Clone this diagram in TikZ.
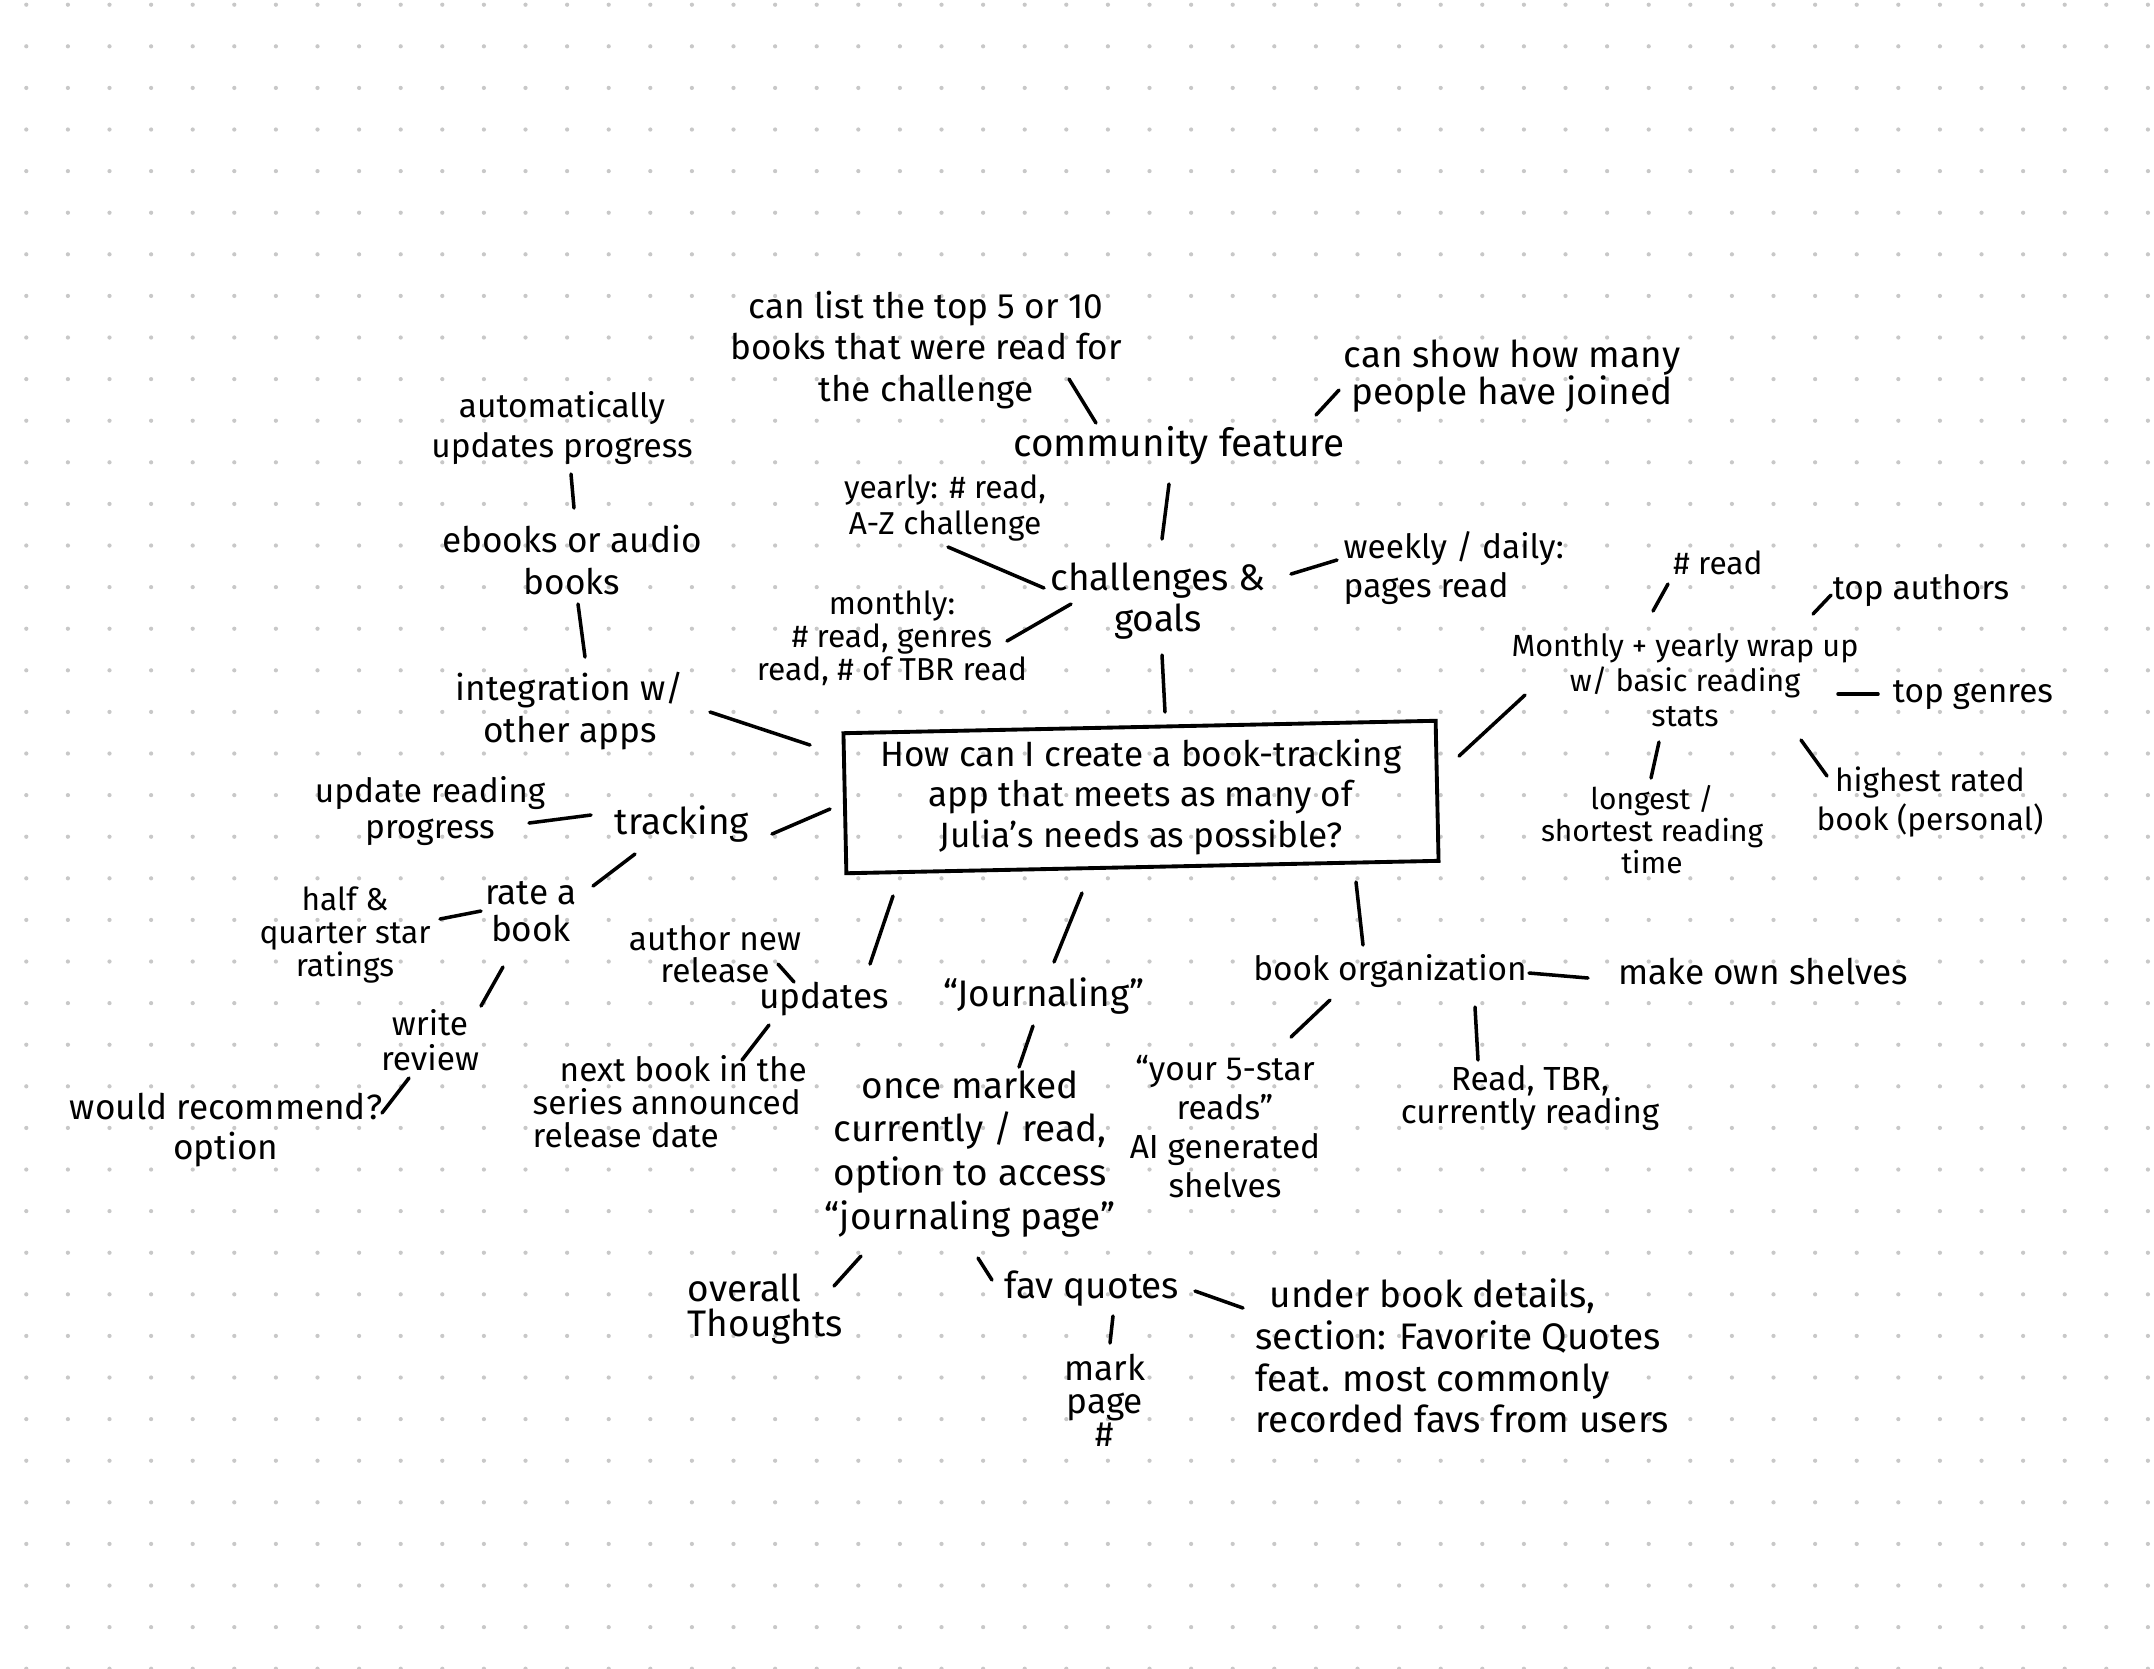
\documentclass[tikz,border=0pt]{standalone}
\usepackage{fontspec}
\setmainfont{Fira Sans}
\definecolor{dotc}{HTML}{C8C8C8}
\tikzset{
  lbl/.style={inner sep=0pt, align=center, text=black},
  fs/.style n args={2}{font=\fontsize{#1}{#2}\selectfont},
  conn/.style={line width=1pt, line cap=round, draw=black},
}
\begin{document}
\begin{tikzpicture}[x=0.01cm,y=-0.01cm]
\useasboundingbox (0,0) rectangle (2154,1668);
\fill[white] (0,0) rectangle (2154,1668);
% dotted grid
\foreach \i in {0,...,51}{
  \foreach \j in {0,...,40}{
    \fill[dotc] (26.3+41.6*\i, 4.7+41.6*\j) circle[radius=0.6pt];
  }
}
% central box (slightly tilted frame) and its question
\node[draw, line width=1.1pt, rotate=1.2, minimum width=5.92cm, minimum height=1.40cm, inner sep=0pt] (box) at (1141,797) {};
\node[lbl, fs={10}{11.4}] (question) at (box.center)
  {How can I create a book-tracking\\app that meets as many of\\Julia's needs as possible?};

% nodes
\node[lbl, fs={10}{11.9}] (toplist) at (926,350) {can list the top 5 or 10\\books that were read for\\the challenge};
\node[lbl, fs={11}{12}] (community) at (1179,446) {community feature};
\node[lbl, fs={10.5}{10.5}] (showmany) at (1512,376) {can show how many\\people have joined};
\node[lbl, fs={9}{10.5}] (yearly) at (945,508) {yearly: \# read,\\A-Z challenge};
\node[lbl, fs={10.5}{11.9}] (challenges) at (1158,601) {challenges \&\\goals};
\node[lbl, fs={9.5}{11.1}, anchor=west, align=left] (weekly) at (1343,568) {weekly / daily:\\pages read};
\node[lbl, fs={9}{9.4}] (monthly) at (892,638) {monthly:\\\# read, genres\\read, \# of TBR read};
\node[lbl, fs={9.5}{11.4}] (autoup) at (562,428) {automatically\\updates progress};
\node[lbl, fs={10}{11.7}] (ebooks) at (572,560) {ebooks or audio\\books};
\node[lbl, fs={10}{11.9}] (integ) at (570,711) {integration w/\\other apps};
\node[lbl, fs={9.5}{10.5}] (update) at (430,811) {update reading\\progress};
\node[lbl, fs={10.5}{12}] (tracking) at (682,824) {tracking};
\node[lbl, fs={10}{10.5}] (rate) at (531,912) {rate a\\book};
\node[lbl, fs={9}{9.4}] (half) at (345,935) {half \&\\quarter star\\ratings};
\node[lbl, fs={9.5}{10}] (write) at (430,1040) {write\\review};
\node[lbl, fs={10}{11.4}] (would) at (226,1130) {would recommend?\\option};
\node[lbl, fs={9.5}{9.1}] (author) at (715,954) {author new\\release};
\node[lbl, fs={10}{12}] (updates) at (824,999) {updates};
\node[lbl, fs={9.5}{9.4}, anchor=west, align=left] (nextbook) at (532,1102) {\hspace*{0.27cm}next book in the\\series announced\\release date};
\node[lbl, fs={10.5}{12}] (journaling) at (1044,996) {“Journaling”};
\node[lbl, fs={10.5}{12.5}] (once) at (970,1154) {once marked\\currently / read,\\option to access\\“journaling page”};
\node[lbl, fs={10.5}{10.2}, anchor=west, align=left] (overall) at (687,1309) {overall\\Thoughts};
\node[lbl, fs={10.5}{12}] (favq) at (1092,1289) {fav quotes};
\node[lbl, fs={10}{9.4}] (mark) at (1105,1400) {mark\\page\\\#};
\node[lbl, fs={10.5}{11.9}, anchor=west, align=left] (under) at (1255,1356) {\hspace*{0.14cm}under book details,\\section: Favorite Quotes\\feat. most commonly\\recorded favs from users};
\node[lbl, fs={9.5}{12}] (bookorg) at (1390,971) {book organization};
\node[lbl, fs={10}{12}] (shelves) at (1763,971) {make own shelves};
\node[lbl, fs={9.5}{9.1}] (readtbr) at (1530,1098) {Read, TBR,\\currently reading};
\node[lbl, fs={9.5}{11.1}] (fivestar) at (1225,1127) {“your 5-star\\reads”\\AI generated\\shelves};
\node[lbl, fs={8.7}{10}] (wrap) at (1685,680) {Monthly + yearly wrap up\\w/ basic reading\\stats};
\node[lbl, fs={9}{10}] (numread) at (1718,563) {\# read};
\node[lbl, fs={9.5}{10}] (authors) at (1921,591) {top authors};
\node[lbl, fs={9.5}{10}] (genres) at (1973,695) {top genres};
\node[lbl, fs={8.5}{9.1}] (longest) at (1652,830) {longest /\\shortest reading\\time};
\node[lbl, fs={9}{11.1}] (highest) at (1930,802) {highest rated\\book (personal)};

% connectors
\draw[conn] ([shift={(143,29)}]toplist.center) -- ([shift={(-83,-23)}]community.center);
\draw[conn] ([shift={(137,-31)}]community.center) -- ([shift={(-173,14)}]showmany.center);
\draw[conn] ([shift={(-10,38)}]community.center) -- ([shift={(4,-62)}]challenges.center);
\draw[conn] ([shift={(3,39)}]yearly.center) -- ([shift={(-114,-13)}]challenges.center);
\draw[conn] ([shift={(133,-27)}]challenges.center) -- ([shift={(-6,-8)}]weekly.west);
\draw[conn] ([shift={(115,3)}]monthly.center) -- ([shift={(-87,3)}]challenges.center);
\draw[conn] ([shift={(4,54)}]challenges.center) -- ([shift={(24,-85)}]box.center);
\draw[conn] ([shift={(9,46)}]autoup.center) -- ([shift={(2,-52)}]ebooks.center);
\draw[conn] ([shift={(6,44)}]ebooks.center) -- ([shift={(15,-54)}]integ.center);
\draw[conn] ([shift={(140,1)}]integ.center) -- ([shift={(-331,-52)}]box.center);
\draw[conn] ([shift={(99,12)}]update.center) -- ([shift={(-91,-9)}]tracking.center);
\draw[conn] ([shift={(90,10)}]tracking.center) -- ([shift={(-311,12)}]box.center);
\draw[conn] ([shift={(-47,30)}]tracking.center) -- ([shift={(62,-26)}]rate.center);
\draw[conn] ([shift={(-50,-1)}]rate.center) -- ([shift={(95,-16)}]half.center);
\draw[conn] ([shift={(-28,55)}]rate.center) -- ([shift={(51,-34)}]write.center);
\draw[conn] ([shift={(-21,38)}]write.center) -- ([shift={(156,-17)}]would.center);
\draw[conn] ([shift={(63,10)}]author.center) -- ([shift={(-30,-17)}]updates.center);
\draw[conn] ([shift={(46,-35)}]updates.center) -- ([shift={(-248,99)}]box.center);
\draw[conn] ([shift={(-55,26)}]updates.center) -- ([shift={(210,-42)}]nextbook.west);
\draw[conn] ([shift={(10,-34)}]journaling.center) -- ([shift={(-59,96)}]box.center);
\draw[conn] ([shift={(-11,30)}]journaling.center) -- ([shift={(49,-87)}]once.center);
\draw[conn] ([shift={(-109,102)}]once.center) -- ([shift={(147,-23)}]overall.west);
\draw[conn] ([shift={(8,104)}]once.center) -- ([shift={(-100,-9)}]favq.center);
\draw[conn] ([shift={(21,27)}]favq.center) -- ([shift={(5,-57)}]mark.center);
\draw[conn] ([shift={(103,2)}]favq.center) -- ([shift={(-12,-48)}]under.west);
\draw[conn] ([shift={(215,85)}]box.center) -- ([shift={(-27,-26)}]bookorg.center);
\draw[conn] ([shift={(139,2)}]bookorg.center) -- ([shift={(-175,7)}]shelves.center);
\draw[conn] ([shift={(85,36)}]bookorg.center) -- ([shift={(-52,-38)}]readtbr.center);
\draw[conn] ([shift={(-60,29)}]bookorg.center) -- ([shift={(66,-90)}]fivestar.center);
\draw[conn] ([shift={(318,-41)}]box.center) -- ([shift={(-160,15)}]wrap.center);
\draw[conn] ([shift={(-32,-69)}]wrap.center) -- ([shift={(-50,21)}]numread.center);
\draw[conn] ([shift={(128,-66)}]wrap.center) -- ([shift={(-90,4)}]authors.center);
\draw[conn] ([shift={(153,14)}]wrap.center) -- ([shift={(-95,-1)}]genres.center);
\draw[conn] ([shift={(-26,62)}]wrap.center) -- ([shift={(-1,-52)}]longest.center);
\draw[conn] ([shift={(116,60)}]wrap.center) -- ([shift={(-103,-26)}]highest.center);
\end{tikzpicture}
\end{document}
